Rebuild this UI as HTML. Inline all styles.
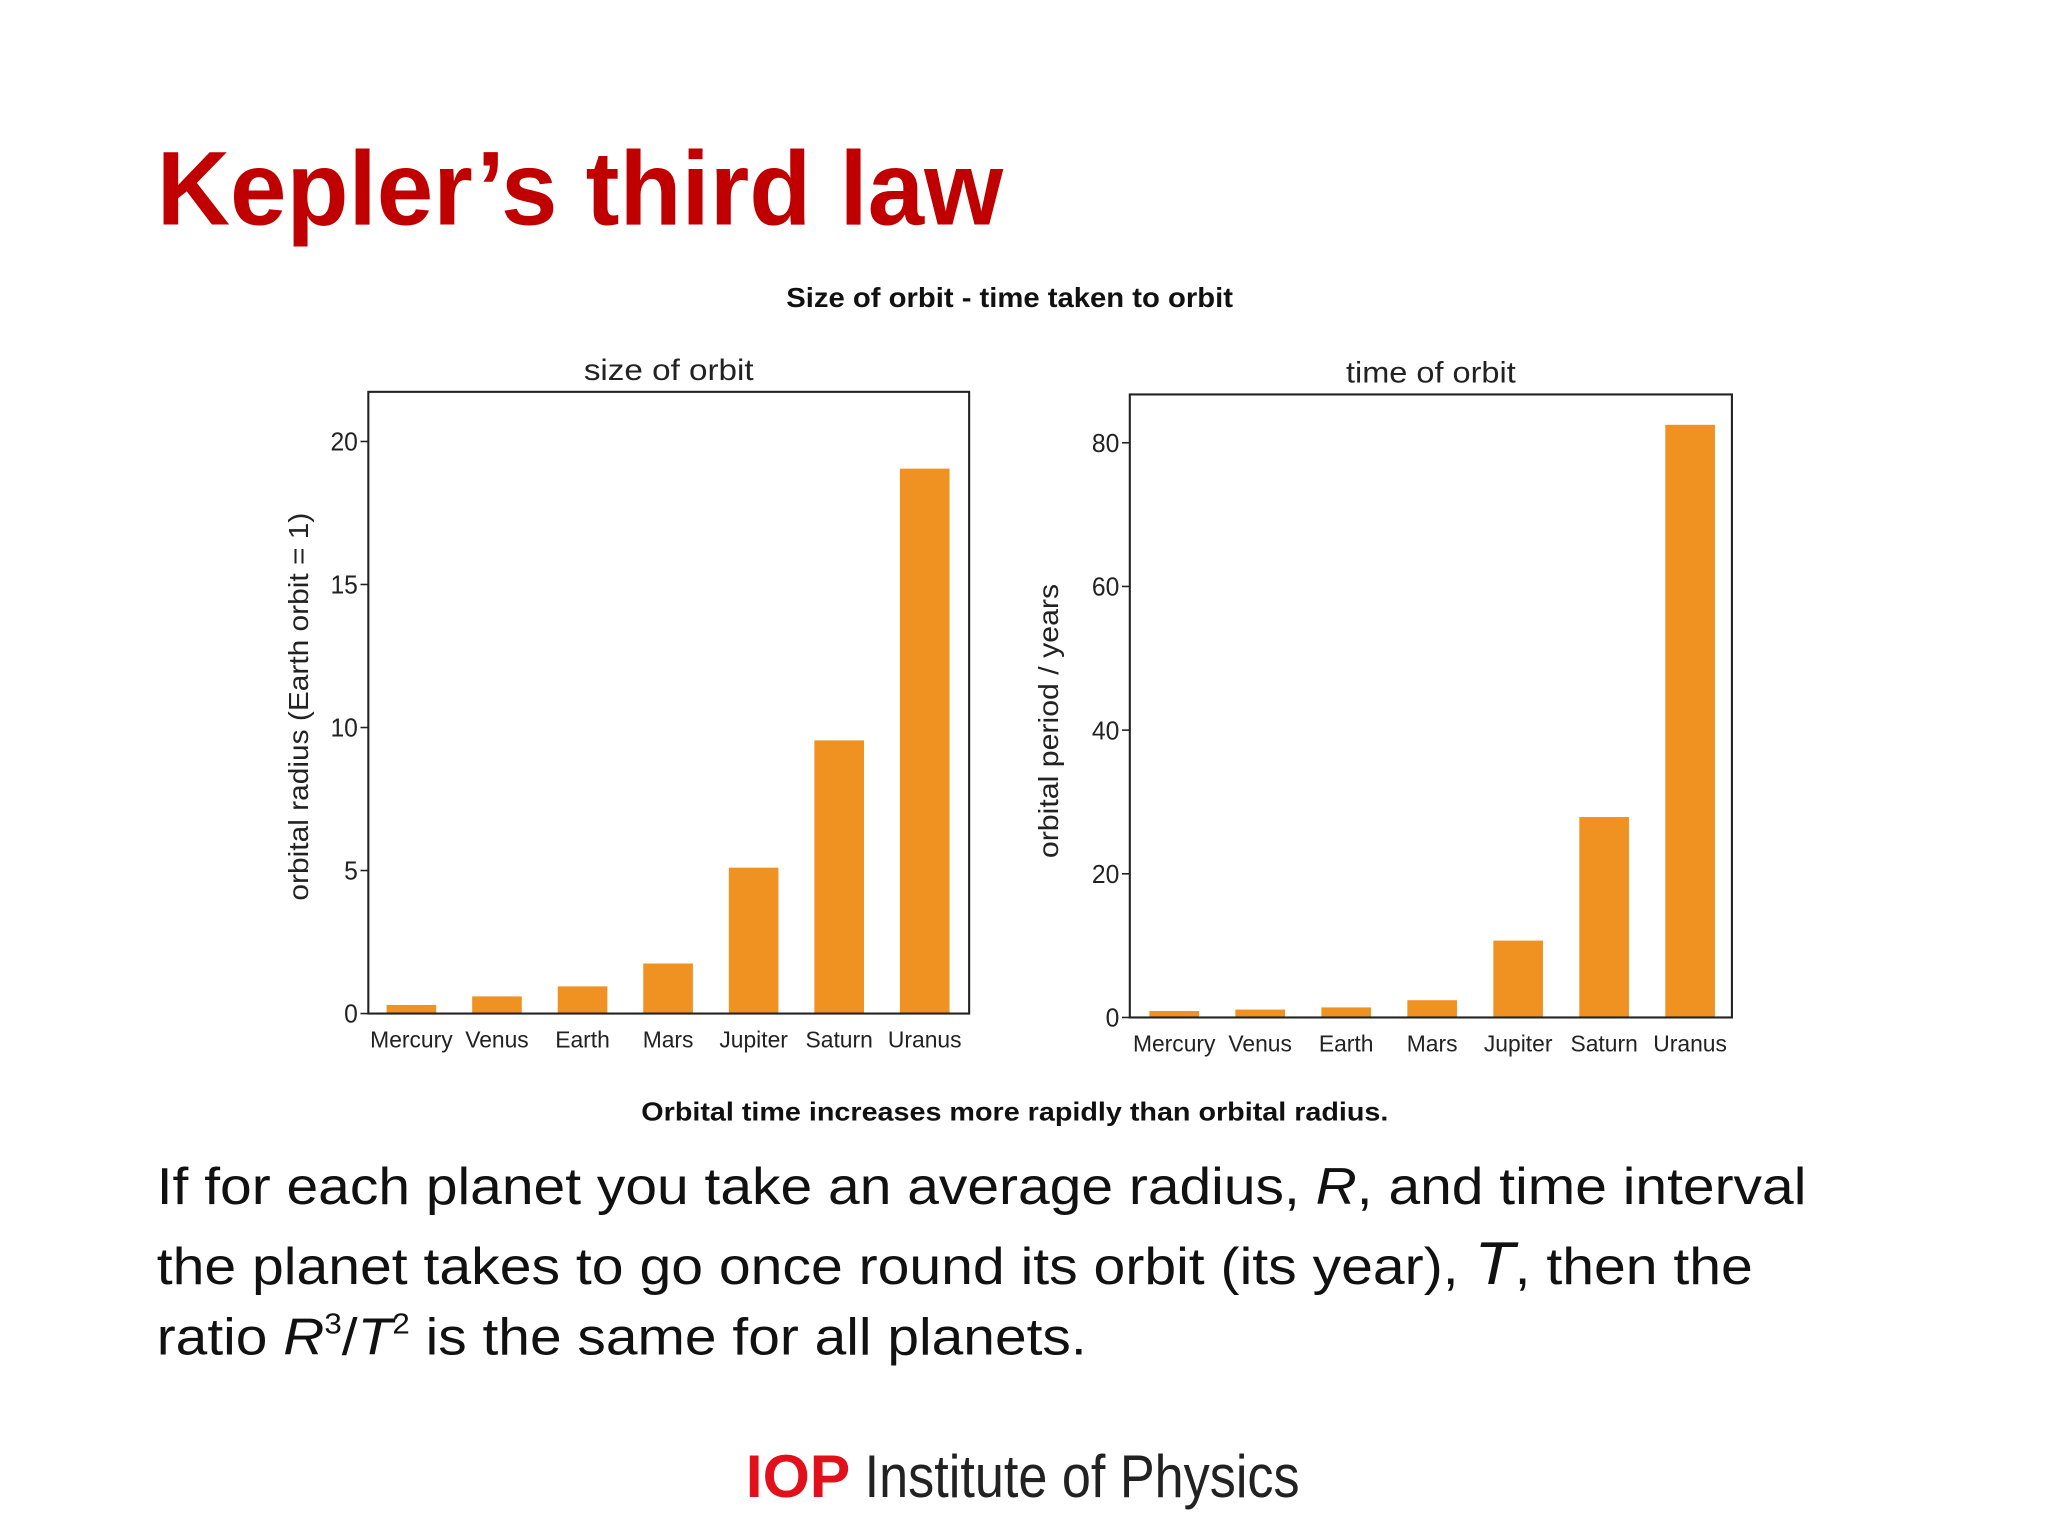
<!DOCTYPE html>
<html><head><meta charset="utf-8"><style>
html,body{margin:0;padding:0;background:#fff;}
svg{display:block;}
</style></head><body>
<svg id="s" width="2048" height="1536" viewBox="0 0 1568 1176" xmlns="http://www.w3.org/2000/svg">
<rect width="1568" height="1176" fill="#fff"/>
<text x="120" y="172" font-family="Liberation Sans, sans-serif" font-weight="bold" font-size="80" fill="#c00000" textLength="648" lengthAdjust="spacingAndGlyphs">Kepler’s third law</text>
<text x="773" y="235" text-anchor="middle" font-family="Liberation Sans, sans-serif" font-weight="bold" font-size="21" fill="#111" textLength="342" lengthAdjust="spacingAndGlyphs">Size of orbit - time taken to orbit</text>
<g id="charts"></g>
<text x="777" y="858" text-anchor="middle" font-family="Liberation Sans, sans-serif" font-weight="bold" font-size="20" fill="#111" textLength="572" lengthAdjust="spacingAndGlyphs">Orbital time increases more rapidly than orbital radius.</text>
<g font-family="Liberation Sans, sans-serif" font-size="40" fill="#111">
<text x="120" y="922" textLength="1263" lengthAdjust="spacingAndGlyphs">If for each planet you take an average radius, <tspan font-style="italic">R</tspan>, and time interval</text>
<text x="120" y="983" textLength="1222" lengthAdjust="spacingAndGlyphs">the planet takes to go once round its orbit (its year), <tspan font-style="italic" font-size="46">T</tspan>, then the</text>
<text x="120" y="1037" textLength="712" lengthAdjust="spacingAndGlyphs">ratio <tspan font-style="italic">R</tspan><tspan font-size="22" dy="-16">3</tspan><tspan dy="16">/</tspan><tspan font-style="italic">T</tspan><tspan font-size="22" dy="-16">2</tspan><tspan dy="16"> is the same for all planets.</tspan></text>
</g>
<g>
<text x="571" y="1146" font-family="Liberation Sans, sans-serif" font-weight="bold" font-size="46" fill="#e1101a" textLength="80" lengthAdjust="spacingAndGlyphs">IOP</text>
<text x="662" y="1146" font-family="Liberation Sans Narrow, Liberation Sans, sans-serif" font-size="46" fill="#222" textLength="333" lengthAdjust="spacingAndGlyphs">Institute of Physics</text>
</g>
</svg>
<script>
const planets = ["Mercury","Venus","Earth","Mars","Jupiter","Saturn","Uranus"];
const radiusValues = [0.3, 0.6, 0.95, 1.75, 5.1, 9.55, 19.05];
const periodValues = [0.9, 1.1, 1.4, 2.4, 10.7, 27.9, 82.5];
const radiusTicks = [0, 5, 10, 15, 20];
const periodTicks = [0, 20, 40, 60, 80];

const NS = "http://www.w3.org/2000/svg";
const root = document.getElementById("charts");
function mk(tag, attrs, parent){ const e=document.createElementNS(NS,tag); for(const k in attrs) e.setAttribute(k,attrs[k]); (parent||root).appendChild(e); return e; }

function drawPanel(cfg){
  const g = mk("g",{});
  
  
  const {x0,x1,y0,y1,yPerUnit} = cfg;
  const yScale = v => y1 - v*yPerUnit;
  const step = (cfg.lastCenter - cfg.firstCenter)/(cfg.cats.length-1);
  const xScale = i => cfg.firstCenter + i*step;
  const bw = 38;
  cfg.vals.forEach((v,i)=>{
    const r = mk("rect",{x:xScale(i)-bw/2, y:yScale(v), width:bw, height:y1-yScale(v), fill:"#ef9222"}, g);
    
    
  });
  const box = mk("rect",{x:x0,y:y0,width:x1-x0,height:y1-y0,fill:"none",stroke:"#222","stroke-width":1.6}, g);
  
  
  cfg.ticks.forEach(t=>{
    const y=yScale(t);
    mk("line",{x1:x0-6,x2:x0,y1:y,y2:y,stroke:"#222","stroke-width":1.2}, g);
    const tl = mk("text",{x:x0-8,y:y+7,"text-anchor":"end","font-family":"Liberation Sans, sans-serif","font-size":20,fill:"#222",textLength:String(t).length*10.5,lengthAdjust:"spacingAndGlyphs"}, g);
    
    
    tl.textContent = t;
  });
  cfg.cats.forEach((c,i)=>{
    const tl = mk("text",{x:xScale(i),y:y1+26,"text-anchor":"middle","font-family":"Liberation Sans, sans-serif","font-size":17.5,fill:"#222"}, g);
    
    
    tl.textContent = c;
  });
  const tt = mk("text",{x:(x0+x1)/2,y:y0-9,"text-anchor":"middle","font-family":"Liberation Sans, sans-serif","font-size":23,fill:"#222",textLength:cfg.title.length*10,lengthAdjust:"spacingAndGlyphs"}, g);
  
  
  tt.textContent = cfg.title;
  const yl = mk("text",{x:0,y:0,"text-anchor":"middle","font-family":"Liberation Sans, sans-serif","font-size":21,fill:"#222",transform:`translate(${cfg.ylX},${cfg.ylY}) rotate(-90)`,textLength:cfg.ylLen,lengthAdjust:"spacingAndGlyphs"}, g);
  
  
  yl.textContent = cfg.ylabel;
}
drawPanel({name:"size-of-orbit-chart",title:"size of orbit",ylabel:"orbital radius (Earth orbit = 1)",
  x0:282,x1:742,y0:300,y1:776,yPerUnit:(776-338)/20,cats:planets,vals:radiusValues,ticks:radiusTicks,
  firstCenter:315,lastCenter:708,ylX:236,ylY:541,ylLen:297});
drawPanel({name:"time-of-orbit-chart",title:"time of orbit",ylabel:"orbital period / years",
  x0:865,x1:1326,y0:302,y1:779,yPerUnit:(779-339)/80,cats:planets,vals:periodValues,ticks:periodTicks,
  firstCenter:899,lastCenter:1294,ylX:810,ylY:552,ylLen:210});
</script>
</body></html>
